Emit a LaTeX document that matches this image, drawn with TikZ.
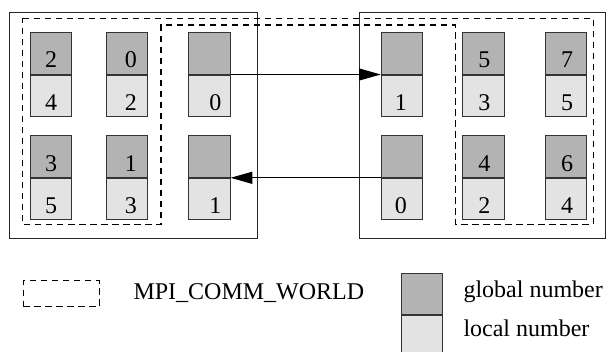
\documentclass[tikz,border=0pt]{standalone}
\usepackage{fontspec}
\setmainfont{Liberation Serif}
\usetikzlibrary{arrows.meta}

\definecolor{globalfill}{HTML}{B3B3B3}
\definecolor{localfill}{HTML}{E3E3E3}
\definecolor{edgegray}{HTML}{333333}

\tikzset{
  hostbox/.style={draw=black!85, line width=1pt, inner sep=0pt, anchor=north west},
  halfcell/.style={draw=edgegray, line width=1pt, inner sep=0pt,
    minimum width=41.3pt, minimum height=41.5pt},
  gcell/.style={halfcell, fill=globalfill},
  lcell/.style={halfcell, fill=localfill},
  num/.style={inner sep=0pt, anchor=base, font=\fontsize{24}{28}\selectfont},
  legtext/.style={inner sep=0pt, anchor=base west, font=\fontsize{24}{28}\selectfont},
  commline/.style={draw=black, line width=1.3pt, dash pattern=on 6.5pt off 4.5pt},
  msg/.style={draw=black, line width=1pt, -{Triangle[length=21.7pt, width=12pt]}},
}

% one process: global number on top, local number below
% #1 name, #2 left x, #3 top y, #4 text shift, #5 global, #6 local
\newcommand\procbox[6]{%
  \node[gcell, anchor=north west] (#1g) at (#2,#3) {};
  \node[lcell, anchor=north] (#1l) at (#1g.south) {};
  \node[num] (#1gn) at ([shift={(#4,-6.8)}]#1g.south) {#5};
  \node[num] (#1ln) at ([shift={(#4,-6.8)}]#1l.south) {#6};
}

\begin{document}
\begin{tikzpicture}[x=1pt, y=-1pt]
  \useasboundingbox (0,0) rectangle (608,351);
  \clip (0,0) rectangle (608,351);

  % the two hosts
  \node[hostbox, minimum width=247.7pt, minimum height=226.6pt] (hostA) at (9.3,11.7) {};
  \node[hostbox, minimum width=245.7pt, minimum height=226.6pt] (hostB) at (359,11.7) {};

  % MPI_COMM_WORLD outline
  \draw[commline] (22.7,18.3) -| (593.3,224.3) -| (455.7,25) -| (161,224.3) -| (22.7,18.3) -- cycle;

  % host A
  \procbox{a11}{30}{32}{0}{2}{4}
  \procbox{a12}{105.7}{32}{4}{0}{2}
  \procbox{a13}{188.3}{32}{6}{}{0}
  \procbox{a21}{30}{135.3}{0}{3}{5}
  \procbox{a22}{105.7}{135.3}{4}{1}{3}
  \procbox{a23}{188.3}{135.3}{6}{}{1}

  % host B
  \procbox{b11}{380.7}{32}{-1}{}{1}
  \procbox{b12}{462.3}{32}{1}{5}{3}
  \procbox{b13}{545}{32}{1}{7}{5}
  \procbox{b21}{380.7}{135.3}{-1}{}{0}
  \procbox{b22}{462.3}{135.3}{1}{4}{2}
  \procbox{b23}{545}{135.3}{1}{6}{4}

  % messages between the hosts
  \draw[msg] (a13g.south east) -- (b11g.south west);
  \draw[msg] (b21g.south west) -- (a23g.south east);

  % legend
  \node[commline, inner sep=0pt, minimum width=76pt, minimum height=26pt, anchor=north west] (legcomm) at (22.7,280) {};
  \node[legtext] (legcommtext) at (133.3,299.3) {MPI\_COMM\_WORLD};
  \node[gcell, anchor=north west] (leggl) at (401,272.7) {};
  \node[lcell, anchor=north] (leglo) at (leggl.south) {};
  \node[legtext] (legglt) at (463.3,297.3) {global number};
  \node[legtext] (leglot) at (463.3,336) {local number};
\end{tikzpicture}
\end{document}
